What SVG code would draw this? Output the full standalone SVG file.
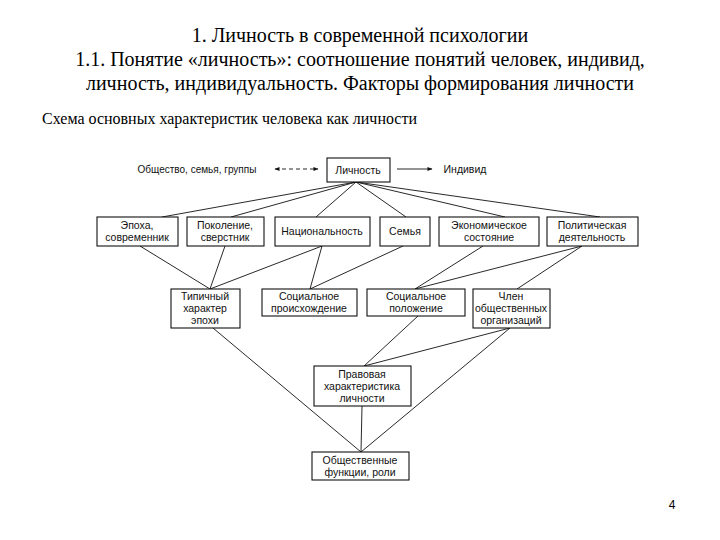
<svg xmlns="http://www.w3.org/2000/svg" width="720" height="540" viewBox="0 0 720 540">
<style>
.t{font-family:"Liberation Serif","Times New Roman",serif;fill:#000}
.d{font-family:"Liberation Sans",Arial,sans-serif;font-size:10.5px;fill:#111;text-anchor:middle}
.b{fill:#fff;stroke:#111;stroke-width:1.1}
.c line{stroke:#111;stroke-width:0.9}
</style>
<defs>
<marker id="ah" viewBox="0 0 10 10" refX="9" refY="5" markerWidth="7" markerHeight="5" orient="auto-start-reverse" markerUnits="userSpaceOnUse">
<path d="M0,1 L10,5 L0,9 z" fill="#111"/>
</marker>
</defs>
<rect width="720" height="540" fill="#fff"/>
<g id="title" class="t" font-size="20" text-anchor="middle">
<text x="360" y="42">1. Личность в современной психологии</text>
<text x="360" y="66">1.1. Понятие «личность»: соотношение понятий человек, индивид,</text>
<text x="360" y="90">личность, индивидуальность. Факторы формирования личности</text>
</g>
<text class="t" x="42" y="124" font-size="16">Схема основных характеристик человека как личности</text>
<g class="c" id="connectors">
<line x1="275" y1="169" x2="318" y2="169" stroke-dasharray="4,3" marker-start="url(#ah)" marker-end="url(#ah)"/>
<line x1="397" y1="169" x2="432" y2="169" marker-end="url(#ah)"/>
<line x1="356" y1="182" x2="162" y2="217"/>
<line x1="356" y1="182" x2="231" y2="217"/>
<line x1="356" y1="182" x2="316" y2="217"/>
<line x1="356" y1="182" x2="406" y2="217"/>
<line x1="356" y1="182" x2="505" y2="217"/>
<line x1="356" y1="182" x2="600" y2="217"/>
<line x1="140" y1="246" x2="210" y2="289"/>
<line x1="225" y1="246" x2="210" y2="289"/>
<line x1="322" y1="246" x2="210" y2="289"/>
<line x1="322" y1="246" x2="310" y2="289"/>
<line x1="403" y1="246" x2="310" y2="289"/>
<line x1="483" y1="246" x2="415" y2="289"/>
<line x1="582" y1="246" x2="415" y2="289"/>
<line x1="582" y1="246" x2="517" y2="289"/>
<line x1="213" y1="328" x2="361" y2="452"/>
<line x1="418" y1="316" x2="364" y2="366"/>
<line x1="510" y1="328" x2="364" y2="366"/>
<line x1="510" y1="328" x2="361" y2="452"/>
<line x1="362" y1="406" x2="361" y2="452" stroke-width="1.6"/>
</g>
<g id="n-society"><text class="d" x="197" y="173" style="font-size:10px">Общество, семья, группы</text></g>
<g id="n-lichnost"><rect class="b" x="327" y="158" width="63" height="24"/><text class="d" x="358" y="174">Личность</text></g>
<g id="n-individ"><text class="d" x="465" y="173">Индивид</text></g>
<g id="n-epoha"><rect class="b" x="97" y="217" width="81" height="29"/><text class="d" x="137" y="229">Эпоха,</text><text class="d" x="137" y="241">современник</text></g>
<g id="n-pokolenie"><rect class="b" x="187" y="217" width="77" height="29"/><text class="d" x="225" y="229">Поколение,</text><text class="d" x="225" y="241">сверстник</text></g>
<g id="n-nac"><rect class="b" x="275" y="217" width="95" height="29"/><text class="d" x="322" y="235">Национальность</text></g>
<g id="n-semya"><rect class="b" x="380" y="217" width="50" height="29"/><text class="d" x="405" y="235">Семья</text></g>
<g id="n-econ"><rect class="b" x="439" y="217" width="100" height="29"/><text class="d" x="489" y="229">Экономическое</text><text class="d" x="489" y="241">состояние</text></g>
<g id="n-polit"><rect class="b" x="547" y="217" width="91" height="29"/><text class="d" x="592" y="229">Политическая</text><text class="d" x="592" y="241">деятельность</text></g>
<g id="n-tip"><rect class="b" x="171" y="289" width="69" height="39"/><text class="d" x="205" y="300">Типичный</text><text class="d" x="205" y="312">характер</text><text class="d" x="205" y="324">эпохи</text></g>
<g id="n-sproish"><rect class="b" x="262" y="289" width="95" height="27"/><text class="d" x="309" y="300">Социальное</text><text class="d" x="309" y="312">происхождение</text></g>
<g id="n-spolozh"><rect class="b" x="367" y="289" width="98" height="27"/><text class="d" x="416" y="300">Социальное</text><text class="d" x="416" y="312">положение</text></g>
<g id="n-chlen"><rect class="b" x="473" y="289" width="77" height="39"/><text class="d" x="511" y="300">Член</text><text class="d" x="511" y="312">общественных</text><text class="d" x="511" y="324">организаций</text></g>
<g id="n-pravo"><rect class="b" x="314" y="366" width="97" height="40"/><text class="d" x="362" y="378">Правовая</text><text class="d" x="362" y="390">характеристика</text><text class="d" x="362" y="402">личности</text></g>
<g id="n-func"><rect class="b" x="312" y="452" width="97" height="28"/><text class="d" x="360" y="464">Общественные</text><text class="d" x="360" y="476">функции, роли</text></g>
<text x="672" y="509" font-family="Liberation Sans,Arial,sans-serif" font-size="12" text-anchor="middle">4</text>
</svg>
